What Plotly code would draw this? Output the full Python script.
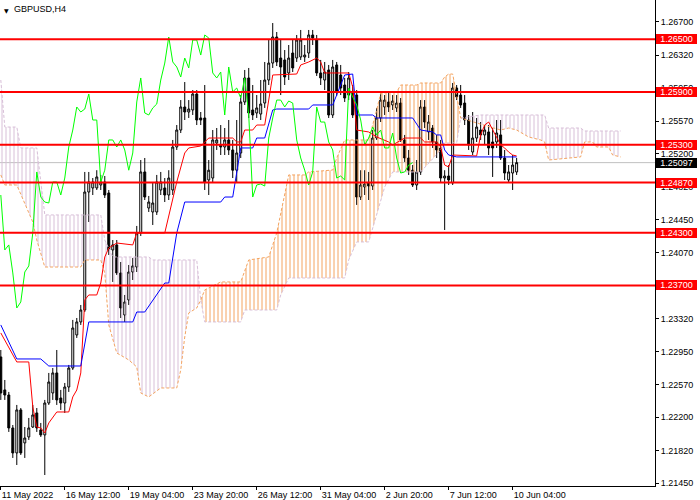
import plotly.graph_objects as go

SYMBOL = "GBPUSD,H4"
X_TICK_BARS = [0, 16, 32, 48, 64, 80, 96, 112, 128]
X_TICK_TEXT = ["11 May 2022", "16 May 12:00", "19 May 04:00", "23 May 20:00", "26 May 12:00",
               "31 May 04:00", "2 Jun 20:00", "7 Jun 12:00", "10 Jun 04:00"]
Y_TICKS = [1.26700, 1.26320, 1.25950, 1.25570, 1.25200, 1.24820, 1.24450, 1.24070, 1.23700,
           1.23320, 1.22950, 1.22570, 1.22200, 1.21820, 1.21450]
LEVELS = [1.2650, 1.2590, 1.2530, 1.2487, 1.2430, 1.2370]
LAST_PRICE = 1.25097

OPEN = [1.22887, 1.22512, 1.22454, 1.22079, 1.21795, 1.22284, 1.21909, 1.21977, 1.22090, 1.22250,
        1.22057, 1.22000, 1.22363, 1.22477, 1.22705, 1.22420, 1.22363, 1.22545, 1.22761, 1.23137,
        1.23285, 1.23421, 1.24763, 1.24809, 1.24809, 1.24843, 1.24877, 1.24752, 1.24104, 1.24161,
        1.23842, 1.23364, 1.23535, 1.23853, 1.23910, 1.24297, 1.24991, 1.24581, 1.24536, 1.24536,
        1.24786, 1.24809, 1.24729, 1.24786, 1.25275, 1.25468, 1.25730, 1.25673, 1.25696, 1.25878,
        1.25605, 1.25605, 1.24900, 1.24922, 1.25321, 1.25298, 1.25275, 1.25355, 1.25241, 1.25011,
        1.25207, 1.25787, 1.26060, 1.25696, 1.25662, 1.25650, 1.25775, 1.26037, 1.26230, 1.26526,
        1.26287, 1.26265, 1.26117, 1.26344, 1.26287, 1.26299, 1.26299, 1.26344, 1.26549, 1.26492,
        1.26117, 1.26037, 1.26151, 1.25639, 1.26208, 1.26094, 1.25980, 1.25866, 1.25901, 1.25866,
        1.24706, 1.24820, 1.24866, 1.24831, 1.25377, 1.25605, 1.25730, 1.25787, 1.25753, 1.25719,
        1.25775, 1.25355, 1.25150, 1.25011, 1.24843, 1.24991, 1.25730, 1.25446, 1.25491, 1.25332,
        1.25264, 1.24922, 1.24945, 1.24866, 1.25946, 1.25866, 1.25775, 1.25582, 1.25218, 1.25377,
        1.25468, 1.25412, 1.25446, 1.25332, 1.25332, 1.25412, 1.25150, 1.24900, 1.24979, 1.24991]
HIGH = [1.22966, 1.22625, 1.22489, 1.22113, 1.22341, 1.22306, 1.22090, 1.22193, 1.22341, 1.22306,
        1.22136, 1.22398, 1.22705, 1.22761, 1.22966, 1.22512, 1.22591, 1.22796, 1.23308, 1.23330,
        1.23478, 1.24991, 1.24991, 1.24922, 1.25011, 1.24957, 1.24945, 1.24786, 1.24217, 1.24217,
        1.23967, 1.23592, 1.23933, 1.24013, 1.24377, 1.25127, 1.25150, 1.24718, 1.24877, 1.24957,
        1.24991, 1.24922, 1.25011, 1.25355, 1.25525, 1.25809, 1.26014, 1.25809, 1.25923, 1.25923,
        1.25673, 1.25980, 1.25127, 1.25468, 1.25491, 1.25525, 1.25491, 1.25582, 1.25355, 1.25582,
        1.25866, 1.26151, 1.26174, 1.25980, 1.25866, 1.26037, 1.26242, 1.26492, 1.26685, 1.26583,
        1.26492, 1.26378, 1.26435, 1.26492, 1.26549, 1.26606, 1.26435, 1.26606, 1.26606, 1.26549,
        1.26265, 1.26242, 1.26208, 1.26265, 1.26242, 1.26208, 1.26060, 1.26128, 1.25980, 1.25923,
        1.25011, 1.25011, 1.24991, 1.25468, 1.25719, 1.25889, 1.25866, 1.25889, 1.25866, 1.25866,
        1.25832, 1.25412, 1.25241, 1.25070, 1.25127, 1.25809, 1.25809, 1.25639, 1.25525, 1.25412,
        1.25355, 1.25011, 1.25070, 1.26003, 1.25980, 1.25980, 1.25866, 1.25639, 1.25673, 1.25605,
        1.25559, 1.25525, 1.25525, 1.25491, 1.25582, 1.25582, 1.25241, 1.25070, 1.25184, 1.25150]
LOW = [1.22398, 1.22398, 1.22034, 1.21738, 1.21658, 1.21772, 1.21738, 1.21943, 1.22079, 1.22034,
       1.21977, 1.21544, 1.22341, 1.22398, 1.22341, 1.22284, 1.22250, 1.22489, 1.22739, 1.23103,
       1.23251, 1.23398, 1.24422, 1.24729, 1.24786, 1.24786, 1.24695, 1.24047, 1.23740, 1.23819,
       1.23330, 1.23285, 1.23478, 1.23762, 1.23853, 1.24263, 1.24672, 1.24536, 1.24388, 1.24502,
       1.24729, 1.24649, 1.24672, 1.24729, 1.25241, 1.25434, 1.25582, 1.25605, 1.25639, 1.25525,
       1.25525, 1.24786, 1.24729, 1.24877, 1.25241, 1.25184, 1.25184, 1.25184, 1.24922, 1.24877,
       1.25150, 1.25753, 1.25605, 1.25582, 1.25605, 1.25582, 1.25719, 1.25980, 1.26174, 1.26196,
       1.25866, 1.25980, 1.26037, 1.26128, 1.26242, 1.26265, 1.26242, 1.26287, 1.26435, 1.26083,
       1.25980, 1.25923, 1.25605, 1.25605, 1.25855, 1.25866, 1.25787, 1.25809, 1.25605, 1.24616,
       1.24672, 1.24729, 1.24672, 1.24786, 1.25355, 1.25559, 1.25639, 1.25673, 1.25696, 1.25673,
       1.25332, 1.25105, 1.24957, 1.24820, 1.24786, 1.24957, 1.25491, 1.25355, 1.25264, 1.25150,
       1.24877, 1.24331, 1.24843, 1.24843, 1.25809, 1.25719, 1.25525, 1.25241, 1.25184, 1.25332,
       1.25355, 1.25298, 1.25184, 1.24934, 1.25264, 1.25127, 1.24900, 1.24866, 1.24786, 1.24957]
CLOSE = [1.22477, 1.22454, 1.22079, 1.21795, 1.22284, 1.21795, 1.21965, 1.22079, 1.22227, 1.22079,
         1.22000, 1.22363, 1.22602, 1.22705, 1.22398, 1.22363, 1.22545, 1.22761, 1.23216, 1.23285,
         1.23421, 1.24763, 1.24877, 1.24877, 1.24934, 1.24877, 1.24729, 1.24104, 1.24161, 1.23842,
         1.23444, 1.23512, 1.23853, 1.23922, 1.24297, 1.24991, 1.24706, 1.24649, 1.24638, 1.24877,
         1.24877, 1.24729, 1.24922, 1.25275, 1.25468, 1.25730, 1.25673, 1.25707, 1.25878, 1.25582,
         1.25582, 1.24877, 1.25011, 1.25355, 1.25355, 1.25275, 1.25355, 1.25241, 1.25011, 1.25207,
         1.25787, 1.26060, 1.25662, 1.25639, 1.25719, 1.25764, 1.26037, 1.26230, 1.26526, 1.26242,
         1.26185, 1.26071, 1.26287, 1.26174, 1.26492, 1.26492, 1.26321, 1.26549, 1.26515, 1.26117,
         1.26060, 1.26128, 1.25639, 1.26185, 1.25901, 1.25946, 1.25832, 1.26060, 1.25639, 1.24706,
         1.24843, 1.24854, 1.24831, 1.25377, 1.25605, 1.25809, 1.25809, 1.25730, 1.25798, 1.25775,
         1.25355, 1.25150, 1.25011, 1.24843, 1.24991, 1.25730, 1.25559, 1.25559, 1.25332, 1.25241,
         1.24922, 1.24945, 1.24900, 1.25946, 1.25844, 1.25753, 1.25582, 1.25298, 1.25377, 1.25502,
         1.25412, 1.25468, 1.25264, 1.25264, 1.25434, 1.25150, 1.24979, 1.24991, 1.25070, 1.25097]

# Ichimoku lines (bar index, price) at their corners
TENKAN_BAR = [0, 4, 7, 8, 9, 10, 11, 12, 14, 17, 18, 19, 20, 21, 22, 24, 25, 26, 27, 29, 33, 34, 41, 44,
              46, 47, 50, 52, 58, 59, 60, 61, 63, 64, 66, 68, 74, 75, 77, 79, 80, 81, 87, 88, 89, 92,
              94, 97, 98, 101, 105, 106, 109, 110, 111, 112, 113, 119, 120, 121, 122, 123, 124, 125,
              126, 127, 128, 129]
TENKAN_VAL = [1.23160, 1.22830, 1.22830, 1.22318, 1.22090, 1.22079, 1.22022, 1.22136, 1.22261, 1.22261,
              1.22432, 1.22511, 1.22705, 1.23535, 1.23592, 1.23592, 1.23728, 1.24024, 1.24126, 1.24183,
              1.24161, 1.24297, 1.24297, 1.24877, 1.25207, 1.25264, 1.25286, 1.25377, 1.25377, 1.25332,
              1.25332, 1.25468, 1.25468, 1.25525, 1.25525, 1.26094, 1.26105, 1.26208, 1.26242, 1.26287,
              1.26242, 1.26117, 1.26117, 1.25957, 1.25468, 1.25446, 1.25389, 1.25332, 1.25298, 1.25377,
              1.25377, 1.25332, 1.25332, 1.25275, 1.25070, 1.25048, 1.25184, 1.25173, 1.25412, 1.25525,
              1.25559, 1.25468, 1.25389, 1.25298, 1.25264, 1.25218, 1.25184, 1.25173]
KIJUN_BAR = [0, 4, 10, 12, 20, 22, 33, 34, 36, 41, 42, 44, 46, 55, 56, 58, 60, 63, 64, 66, 68, 69, 77,
             78, 83, 86, 88, 89, 93, 94, 103, 105, 108, 109, 110, 111, 112, 114, 129]
KIJUN_VAL = [1.23251, 1.22864, 1.22864, 1.22784, 1.22784, 1.23285, 1.23285, 1.23398, 1.23398, 1.23728,
             1.23728, 1.24297, 1.24649, 1.24649, 1.24706, 1.24706, 1.25264, 1.25264, 1.25377, 1.25377,
             1.25696, 1.25707, 1.25707, 1.25753, 1.25753, 1.26094, 1.26105, 1.25639, 1.25639, 1.25605,
             1.25605, 1.25468, 1.25446, 1.25412, 1.25412, 1.25241, 1.25184, 1.25162, 1.25162]
SPAN_A_BAR = [0, 1, 4, 8, 9, 11, 20, 21, 25, 26, 27, 29, 32, 34, 35, 37, 40, 44, 45, 46, 47, 49, 50,
              51, 55, 60, 62, 67, 69, 72, 76, 77, 83, 84, 86, 92, 94, 95, 99, 100, 104, 105, 110, 111,
              112, 113, 114, 115, 119, 125, 127, 129, 132, 135, 136, 137, 145, 146, 148, 149, 152, 153, 155]
SPAN_A_VAL = [1.24957, 1.24843, 1.24843, 1.24422, 1.24217, 1.23910, 1.23910, 1.23990, 1.23990, 1.23842,
              1.23251, 1.22932, 1.22853, 1.22773, 1.22477, 1.22432, 1.22534, 1.22534, 1.22739, 1.23114,
              1.23387, 1.23444, 1.23535, 1.23649, 1.23740, 1.23740, 1.23990, 1.24024, 1.24297, 1.24957,
              1.24957, 1.24991, 1.25013, 1.25150, 1.25355, 1.25355, 1.25696, 1.25889, 1.25901, 1.25980,
              1.25980, 1.26003, 1.26003, 1.26071, 1.26105, 1.26105, 1.25866, 1.25605, 1.25548, 1.25468,
              1.25491, 1.25468, 1.25389, 1.25355, 1.25332, 1.25127, 1.25162, 1.25332, 1.25332, 1.25275,
              1.25275, 1.25184, 1.25162]
SPAN_B_BAR = [0, 1, 4, 5, 9, 11, 25, 26, 28, 37, 38, 49, 50, 51, 60, 61, 69, 70, 72, 86, 87, 89, 92,
              94, 96, 98, 105, 110, 111, 114, 115, 120, 136, 137, 145, 146, 155]
SPAN_B_VAL = [1.26037, 1.25502, 1.25502, 1.25264, 1.25264, 1.24502, 1.24502, 1.24217, 1.24024, 1.24024,
              1.23990, 1.23990, 1.23535, 1.23285, 1.23285, 1.23421, 1.23421, 1.23592, 1.23785, 1.23785,
              1.23990, 1.24195, 1.24195, 1.24502, 1.24820, 1.24991, 1.24991, 1.25241, 1.25321, 1.25321,
              1.25605, 1.25639, 1.25639, 1.25491, 1.25491, 1.25457, 1.25457]
# cloud segments: (first bar, last bar, colour of the segment)
CLOUD_SEGMENTS = [(0, 50, "thistle"), (50, 115, "sandy"), (115, 155, "thistle")]

SANDY = "#F4A460"
THISTLE = "#D8BFD8"
FONT = "Liberation Sans"

n = len(CLOSE)
bars = list(range(n))
fig = go.Figure()

# Kumo cloud
for s, e, col in CLOUD_SEGMENTS:
    ax = [b for b in SPAN_A_BAR if s <= b <= e]
    ay = [v for b, v in zip(SPAN_A_BAR, SPAN_A_VAL) if s <= b <= e]
    bx = [b for b in SPAN_B_BAR if s <= b <= e]
    by = [v for b, v in zip(SPAN_B_BAR, SPAN_B_VAL) if s <= b <= e]
    c = SANDY if col == "sandy" else THISTLE
    fig.add_trace(go.Scatter(
        x=ax + bx[::-1], y=ay + by[::-1], mode="lines", fill="toself",
        line=dict(width=0, color="rgba(0,0,0,0)"), fillcolor="rgba(0,0,0,0)",
        fillpattern=dict(shape="|", fgcolor=c, bgcolor="rgba(0,0,0,0)", size=4,
                         solidity=0.25, fgopacity=1),
        hoverinfo="skip"))

fig.add_trace(go.Scatter(x=SPAN_B_BAR, y=SPAN_B_VAL, mode="lines",
                         line=dict(color=THISTLE, width=1, dash="3px,2px"), hoverinfo="skip"))
fig.add_trace(go.Scatter(x=SPAN_A_BAR, y=SPAN_A_VAL, mode="lines",
                         line=dict(color=SANDY, width=1, dash="3px,2px"), hoverinfo="skip"))

# candles
fig.add_trace(go.Candlestick(
    x=bars, open=OPEN, high=HIGH, low=LOW, close=CLOSE,
    increasing=dict(line=dict(color="black", width=1), fillcolor="white"),
    decreasing=dict(line=dict(color="black", width=1), fillcolor="black"),
    whiskerwidth=0, hoverinfo="skip"))

# Tenkan, Kijun, Chikou
fig.add_trace(go.Scatter(x=TENKAN_BAR, y=TENKAN_VAL, mode="lines",
                         line=dict(color="#FF0000", width=1), hoverinfo="skip"))
fig.add_trace(go.Scatter(x=KIJUN_BAR, y=KIJUN_VAL, mode="lines",
                         line=dict(color="#0000FF", width=1), hoverinfo="skip"))
fig.add_trace(go.Scatter(x=[b - 26 for b in bars[26:]], y=CLOSE[26:], mode="lines",
                         line=dict(color="#00FF00", width=1), hoverinfo="skip"))

shapes = [dict(type="line", xref="paper", x0=0, x1=1, yref="y", y0=LAST_PRICE, y1=LAST_PRICE,
               line=dict(color="#C0C0C0", width=1), layer="below")]
for lv in LEVELS:
    shapes.append(dict(type="line", xref="paper", x0=0, x1=1, yref="y", y0=lv, y1=lv,
                       line=dict(color="#FF0000", width=2), layer="above"))

annotations = []
for lv in LEVELS:
    annotations.append(dict(x=1, xref="paper", xanchor="left", y=lv, yref="y", yanchor="middle",
                            text=f"{lv:.5f}", showarrow=False, bgcolor="#FF0000",
                            font=dict(family=FONT, size=9, color="white"),
                            width=41, height=10, borderpad=0, borderwidth=0, xshift=1))
annotations.append(dict(x=1, xref="paper", xanchor="left", y=LAST_PRICE, yref="y", yanchor="middle",
                        text=f"{LAST_PRICE:.5f}", showarrow=False, bgcolor="black",
                        font=dict(family=FONT, size=9, color="white"),
                        width=41, height=10, borderpad=0, borderwidth=0, xshift=1))
annotations.append(dict(x=0, xref="paper", xanchor="left", y=1, yref="paper", yanchor="top",
                        text="▼", showarrow=False, font=dict(family="DejaVu Sans", size=6, color="black"),
                        xshift=2, yshift=-5))
annotations.append(dict(x=0, xref="paper", xanchor="left", y=1, yref="paper", yanchor="top",
                        text=SYMBOL, showarrow=False, font=dict(family=FONT, size=9, color="black"),
                        xshift=12, yshift=-2))

fig.update_layout(
    width=700, height=500, margin=dict(l=0, r=45, t=0, b=14),
    paper_bgcolor="white", plot_bgcolor="white", showlegend=False, hovermode=False,
    shapes=shapes, annotations=annotations)
fig.update_xaxes(
    range=[-0.2, 163.6], tickmode="array", tickvals=X_TICK_BARS, ticktext=X_TICK_TEXT,
    ticks="outside", ticklen=3, tickcolor="black", showline=True, linecolor="black", linewidth=1,
    showgrid=False, zeroline=False, rangeslider=dict(visible=False),
    ticklabelposition="outside right", tickfont=dict(family=FONT, size=9, color="black"),
    automargin=False)
fig.update_yaxes(
    side="right", range=[1.21419, 1.26947], tickmode="array", tickvals=Y_TICKS,
    ticktext=[f"{v:.5f}" for v in Y_TICKS], ticks="outside", ticklen=3, tickcolor="black",
    showline=True, linecolor="black", linewidth=1, showgrid=False, zeroline=False,
    tickfont=dict(family=FONT, size=9, color="black"), automargin=False)

fig.write_html("out.html", config={"displayModeBar": False},
               post_script="document.body.style.margin='0';document.body.style.overflow='hidden';")
